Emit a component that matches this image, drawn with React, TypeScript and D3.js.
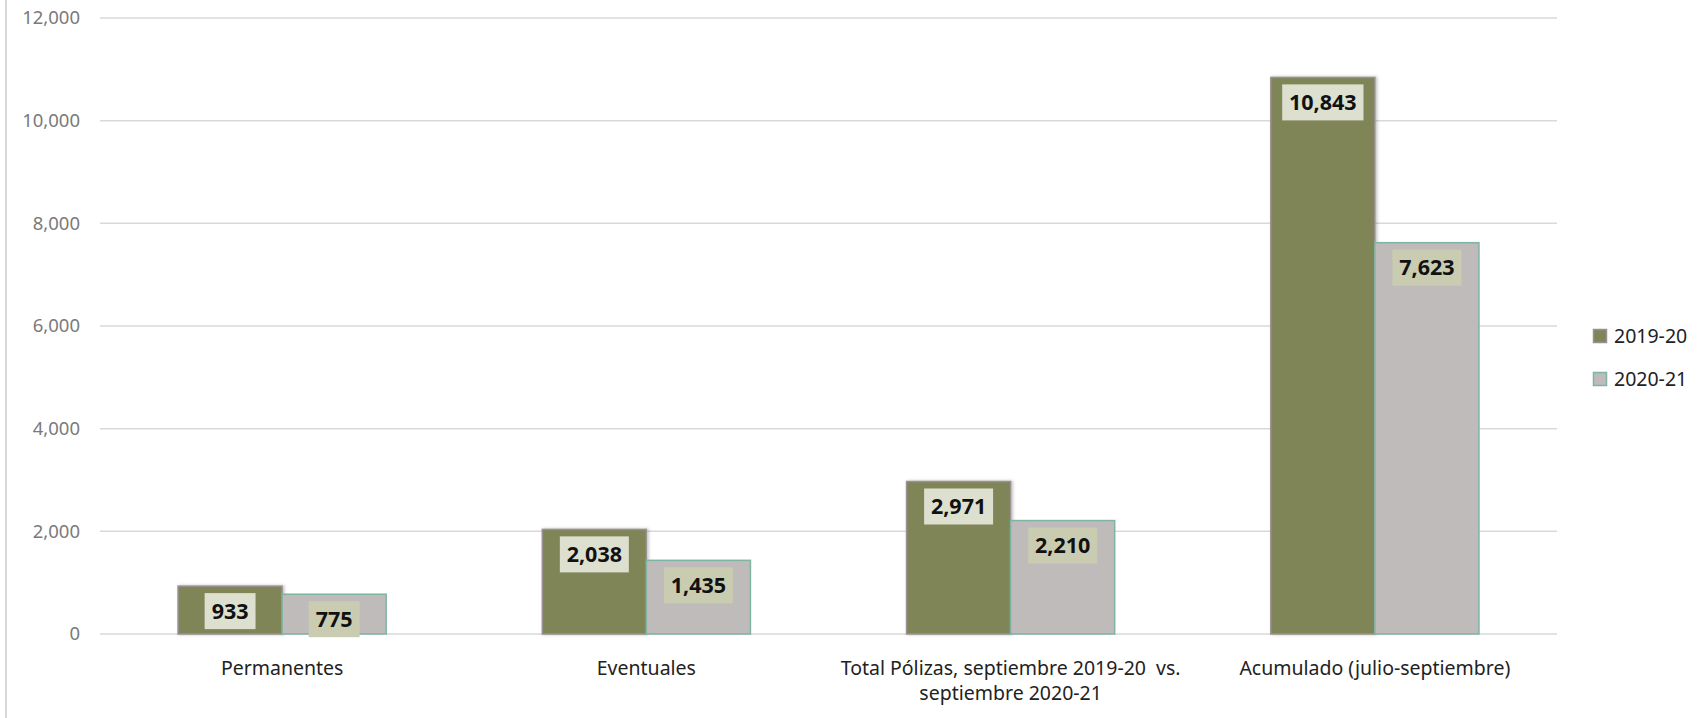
import React from "react";
import * as d3 from "d3";

const categories = [
  ["Permanentes"],
  ["Eventuales"],
  ["Total Pólizas, septiembre 2019-20\u00a0\u00a0vs.", "septiembre 2020-21"],
  ["Acumulado (julio-septiembre)"],
];
const seriesNames = ["2019-20", "2020-21"];
const values2019 = [933, 2038, 2971, 10843];
const values2020 = [775, 1435, 2210, 7623];
const yTicks = [0, 2000, 4000, 6000, 8000, 10000, 12000];

const W = 1707;
const H = 718;
const FONT = "'Noto Sans', 'Open Sans', sans-serif";

const fills = ["#808558", "#c0bbbb"];
const strokes = ["#9a9292", "#7fb3a3"];
const labelBg = ["#dde0cf", "#c9ccb0"];

export default function App() {
  const catIdx = categories.map((_, i) => String(i));
  const x = d3.scaleBand<string>().domain(catIdx).range([100, 1557]).padding(0);
  const xs = d3
    .scaleBand<string>()
    .domain(seriesNames)
    .range([0, x.bandwidth()])
    .paddingInner(0)
    .paddingOuter(0.75);
  const y = d3.scaleLinear().domain([0, 12000]).range([634, 18]);
  const fmt = d3.format(",");
  const series = [values2019, values2020];
  const labelFs = 21.5;

  const textW = (s: string) => {
    let w = 0;
    for (const c of s) w += c === "," ? 0.27 : 0.572;
    return w * labelFs;
  };

  return (
    <svg
      width={W}
      height={H}
      style={{ position: "absolute", left: 0, top: 0, background: "#fff" }}
      fontFamily={FONT}
    >
      <defs>
        <filter id="sh" x="-10%" y="-10%" width="130%" height="130%">
          <feDropShadow dx="1.5" dy="0" stdDeviation="1.5" floodColor="#000" floodOpacity="0.25" />
        </filter>
      </defs>
      <line x1={6} x2={6} y1={0} y2={H} stroke="#d9d9d9" strokeWidth={2} />
      {yTicks.map((t) => (
        <g key={t}>
          <line x1={100} x2={1557} y1={y(t)} y2={y(t)} stroke="#d9d9d9" strokeWidth={1.5} />
          <text
            x={80}
            y={y(t)}
            dy="0.35em"
            textAnchor="end"
            fontSize={18.5}
            fill="#7a7a7a"
          >
            {fmt(t)}
          </text>
        </g>
      ))}
      {series.map((vals, si) =>
        vals.map((v, ci) => {
          const bx = (x(String(ci)) as number) + (xs(seriesNames[si]) as number);
          const bw = xs.bandwidth();
          return (
            <rect
              key={`b${si}-${ci}`}
              x={bx}
              y={y(v)}
              width={bw}
              height={y(0) - y(v)}
              fill={fills[si]}
              stroke={strokes[si]}
              strokeWidth={1.5}
              filter={si === 0 ? "url(#sh)" : undefined}
            />
          );
        })
      )}
      {series.map((vals, si) =>
        vals.map((v, ci) => {
          const bx = (x(String(ci)) as number) + (xs(seriesNames[si]) as number);
          const cx = bx + xs.bandwidth() / 2;
          const s = fmt(v);
          const tw = textW(s) + 14;
          const top = y(v) + 7;
          return (
            <g key={`l${si}-${ci}`}>
              <rect x={cx - tw / 2} y={top} width={tw} height={36} fill={labelBg[si]} />
              <text
                x={cx}
                y={top + 18}
                dy="0.36em"
                textAnchor="middle"
                fontSize={labelFs}
                fontWeight="bold"
                fill="#111"
              >
                {s}
              </text>
            </g>
          );
        })
      )}
      {categories.map((lines, ci) => {
        const cx = (x(String(ci)) as number) + x.bandwidth() / 2;
        return (
          <text key={`c${ci}`} textAnchor="middle" fontSize={19.5} fill="#222">
            {lines.map((l, li) => (
              <tspan key={li} x={cx} y={675 + li * 25}>
                {l}
              </tspan>
            ))}
          </text>
        );
      })}
      {seriesNames.map((n, si) => (
        <g key={`lg${si}`} transform={`translate(1593, ${329 + si * 43})`}>
          <rect x={0.5} y={0.5} width={13} height={13} fill={fills[si]} stroke={strokes[si]} strokeWidth={1.5} />
          <text x={21} y={7} dy="0.36em" fontSize={19.5} fill="#222">
            {n}
          </text>
        </g>
      ))}
    </svg>
  );
}
